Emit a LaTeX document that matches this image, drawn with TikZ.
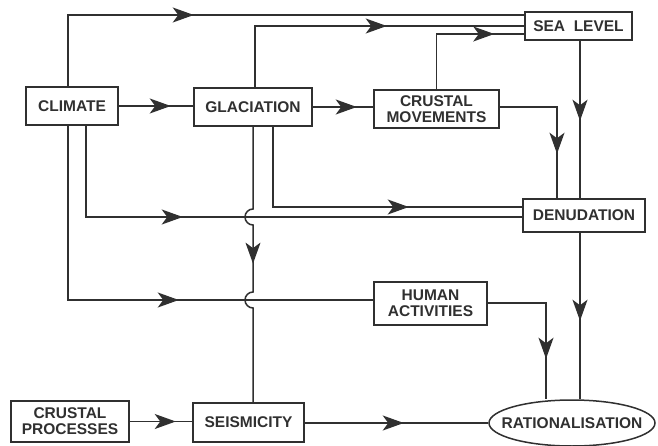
\documentclass[tikz,border=0pt]{standalone}
\usepackage{fontspec}
\setmainfont{Liberation Sans}
\usetikzlibrary{arrows.meta,decorations.markings,shapes.geometric}
\definecolor{ink}{HTML}{303030}
\tikzset{
 box/.style={draw=ink, line width=1.5pt, fill=white, text=ink, font=\fontsize{15.5}{16}\selectfont\bfseries, align=center, inner sep=0pt},
 conn/.style={draw=ink, line width=1.5pt},
 marr/.style={postaction={decorate}, decoration={markings, mark=at position #1 with {\arrow[color=ink]{Stealth[length=21pt,width=15pt,inset=5.5pt]}}}},
}
\begin{document}
\begin{tikzpicture}[x=1pt,y=-1pt]
\useasboundingbox (0,0) rectangle (658,446);
\node[box, minimum width=92pt, minimum height=38pt] (climate) at (72,106) {CLIMATE};
\node[box, minimum width=118pt, minimum height=38pt] (glac) at (253,107) {GLACIATION};
\node[box, minimum width=125pt, minimum height=38pt] (cmov) at (436.5,109) {CRUSTAL\\MOVEMENTS};
\node[box, minimum width=107pt, minimum height=28pt] (sea) at (578.5,26) {SEA\ \ LEVEL};
\node[box, minimum width=122pt, minimum height=33pt] (denud) at (584,215.5) {DENUDATION};
\node[box, minimum width=113pt, minimum height=43pt] (human) at (430.5,303.5) {HUMAN\\ACTIVITIES};
\node[box, ellipse, minimum width=166pt, minimum height=46pt] (ration) at (572,423) {\makebox[0pt]{RATIONALISATION}};
\node[box, minimum width=118pt, minimum height=41pt] (cproc) at (70,421.5) {CRUSTAL\\PROCESSES};
\node[box, minimum width=111pt, minimum height=39pt] (seis) at (248.5,422.5) {SEISMICITY};

% climate -> sea level
\draw[conn, marr=197pt] ([xshift=-4pt]climate.north) |- ([yshift=11pt]sea.west);
% glaciation -> sea level
\draw[conn, marr=193pt] ([xshift=2pt]glac.north) |- (sea.west);
% crustal movements -> sea level
\draw[conn, marr=113pt] (cmov.north) |- ([yshift=-8pt]sea.west);
% sea level -> denudation
\draw[conn, marr=80pt] ([xshift=1.5pt]sea.south) -- ([xshift=1.5pt]sea.south |- denud.north);
% crustal movements -> denudation
\draw[conn, marr=104pt] ([yshift=2pt]cmov.east) -| ([xshift=-27pt]denud.north);
% climate -> glaciation
\draw[conn, marr=52pt] (climate.east) -- (glac.west |- climate.east);
% glaciation -> crustal movements
\draw[conn, marr=44pt] (glac.east) -- (cmov.west |- glac.east);
% climate -> denudation
\draw[conn, marr=188pt] ([xshift=14pt]climate.south) |- ([yshift=-1.5pt]denud.west);
% glaciation -> denudation
\draw[conn, marr=216pt] ([xshift=20pt]glac.south) |- ([yshift=8.5pt]denud.west);
% glaciation -> seismicity (with hops)
\draw[conn, marr=146pt] (glac.south) -- (253,209) arc[start angle=90,end angle=270,radius=8pt]
  -- (253,292) arc[start angle=90,end angle=270,radius=8pt] -- (seis.north -| glac.south);
% climate -> human activities
\draw[conn, marr=285pt] ([xshift=-4pt]climate.south) |- ([yshift=3.5pt]human.west);
% human activities -> rationalisation
\draw[conn, marr=114pt] ([yshift=0.5pt]human.east) -| ([xshift=-26pt]ration.north);
% denudation -> rationalisation
\draw[conn, marr=88pt] ([xshift=-4pt]denud.south) -- ([xshift=-4pt]denud.south |- ration.north);
% crustal processes -> seismicity
\draw[conn, marr=46pt] (cproc.east) -- (seis.west |- cproc.east);
% seismicity -> rationalisation
\draw[conn, marr=99pt] (seis.east |- ration.west) -- (ration.west);
\end{tikzpicture}
\end{document}
